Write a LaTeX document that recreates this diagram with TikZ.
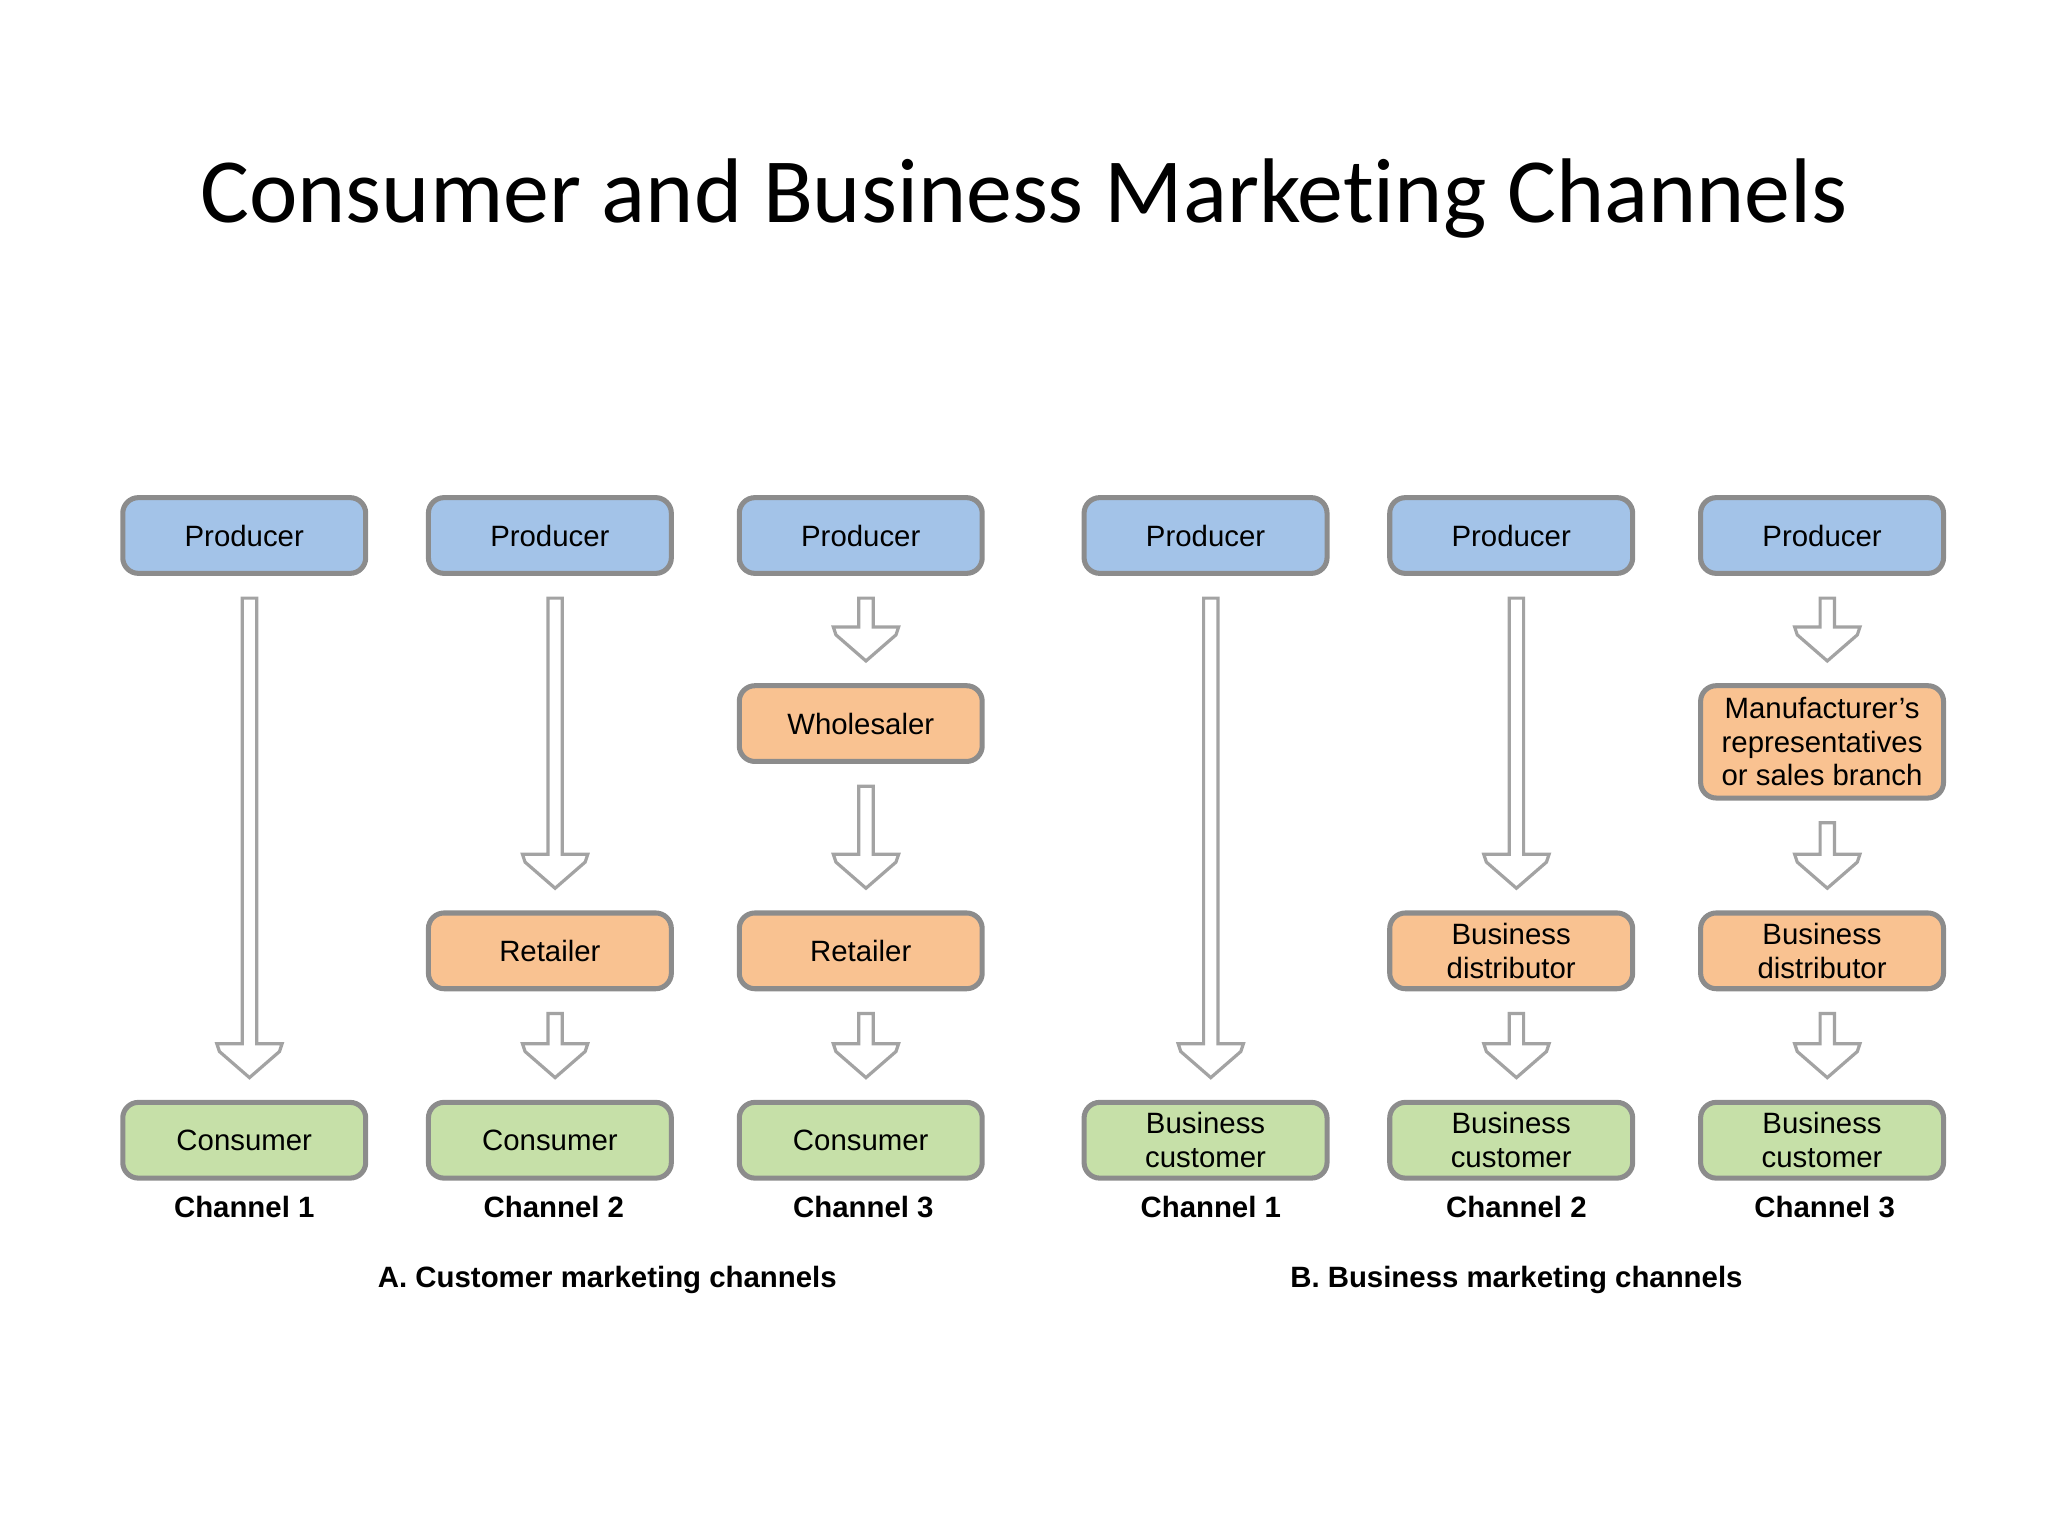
\documentclass[tikz,border=0pt]{standalone}
\usepackage{fontspec}
\setmainfont{Liberation Sans}
\newfontfamily\titlefont[Ligatures=NoCommon]{Carlito}
\usetikzlibrary{calc}
\definecolor{bfill}{HTML}{A3C3E8}
\definecolor{ofill}{HTML}{F9C291}
\definecolor{gfill}{HTML}{C6E0A8}
\definecolor{bord}{HTML}{8C8C8C}
\begin{document}
\begin{tikzpicture}[x=1cm,y=1cm,
  box/.style={draw=bord,line width=1.1pt,rounded corners=0.12cm,minimum width=1.86cm,minimum height=0.58cm,align=center,font=\fontsize{6.4}{7.3}\selectfont,inner sep=1pt},
  prod/.style={box,fill=bfill},
  mid/.style={box,fill=ofill},
  cons/.style={box,fill=gfill},
  chl/.style={font=\fontsize{6.4}{7.3}\selectfont\bfseries},
  arr/.style={draw=bord!80,line width=0.7pt,fill=white,line join=miter}]
\useasboundingbox (0,0) rectangle (15.68,-11.76);
\newcommand\barr[2]{\draw[arr] let \p1=($(#1.south)+(0.04,-0.17)$), \p2=($(#2.north)+(0.04,0.17)$) in
  ({\x1-0.055cm},\y1) -- ({\x1-0.055cm},{\y2+0.26cm}) -- ({\x1-0.25cm},{\y2+0.26cm}) -- ({\x1-0.23cm},{\y2+0.2cm}) -- (\x1,\y2) -- ({\x1+0.23cm},{\y2+0.2cm}) -- ({\x1+0.25cm},{\y2+0.26cm}) -- ({\x1+0.055cm},{\y2+0.26cm}) -- ({\x1+0.055cm},\y1) -- cycle;}
\node[font=\titlefont\fontsize{20}{24}\selectfont] (title) at (7.84,-1.52) {Consumer and Business Marketing Channels};
% A1
\node[prod] (p1) at (1.87,-4.10) {Producer};
\node[cons] (c1) at (1.87,-8.73) {Consumer};
\node[chl] (l1) at (1.87,-9.24) {Channel 1};
% A2
\node[prod] (p2) at (4.21,-4.10) {Producer};
\node[mid] (r2) at (4.21,-7.28) {Retailer};
\node[cons] (c2) at (4.21,-8.73) {Consumer};
\node[chl] (l2) at (4.24,-9.24) {Channel 2};
% A3
\node[prod] (p3) at (6.59,-4.10) {Producer};
\node[mid] (w3) at (6.59,-5.54) {Wholesaler};
\node[mid] (r3) at (6.59,-7.28) {Retailer};
\node[cons] (c3) at (6.59,-8.73) {Consumer};
\node[chl] (l3) at (6.61,-9.24) {Channel 3};
% B1
\node[prod] (p4) at (9.23,-4.10) {Producer};
\node[cons] (c4) at (9.23,-8.73) {Business\\customer};
\node[chl] (l4) at (9.27,-9.24) {Channel 1};
% B2
\node[prod] (p5) at (11.57,-4.10) {Producer};
\node[mid] (d5) at (11.57,-7.28) {Business\\distributor};
\node[cons] (c5) at (11.57,-8.73) {Business\\customer};
\node[chl] (l5) at (11.61,-9.24) {Channel 2};
% B3
\node[prod] (p6) at (13.95,-4.10) {Producer};
\node[mid,minimum height=0.86cm] (m6) at (13.95,-5.68) {Manufacturer’s\\representatives\\or sales branch};
\node[mid] (d6) at (13.95,-7.28) {Business\\distributor};
\node[cons] (c6) at (13.95,-8.73) {Business\\customer};
\node[chl] (l6) at (13.97,-9.24) {Channel 3};
\node[font=\fontsize{6.4}{7.3}\selectfont\bfseries] (sa) at (4.65,-9.80) {A. Customer marketing channels};
\node[font=\fontsize{6.4}{7.3}\selectfont\bfseries] (sb) at (11.61,-9.80) {B. Business marketing channels};
\barr{p1}{c1}
\barr{p2}{r2}\barr{r2}{c2}
\barr{p3}{w3}\barr{w3}{r3}\barr{r3}{c3}
\barr{p4}{c4}
\barr{p5}{d5}\barr{d5}{c5}
\barr{p6}{m6}\barr{m6}{d6}\barr{d6}{c6}
\end{tikzpicture}
\end{document}
